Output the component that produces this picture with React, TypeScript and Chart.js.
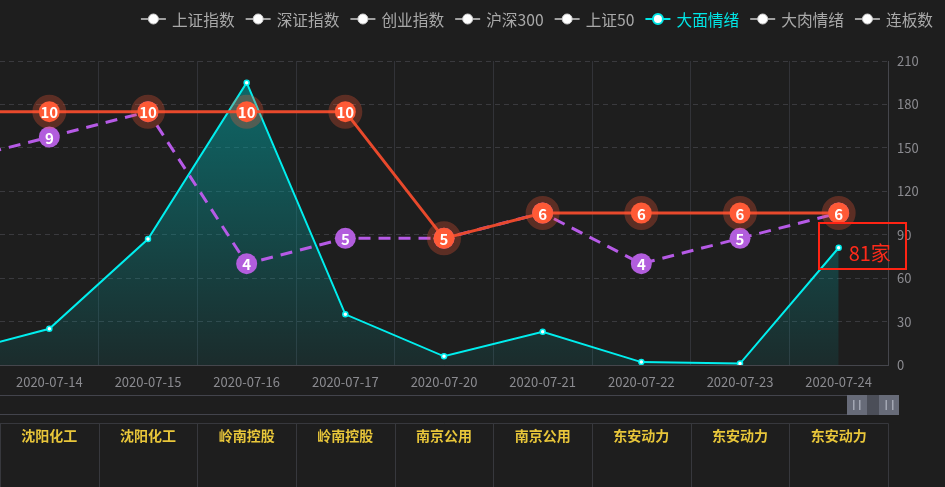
import React, { useEffect, useRef } from 'react';
import { Chart, registerables } from 'chart.js';

Chart.register(...registerables);

// ---- data ----
const categories = ['2020-07-13', '2020-07-14', '2020-07-15', '2020-07-16', '2020-07-17', '2020-07-20', '2020-07-21', '2020-07-22', '2020-07-23', '2020-07-24'];
const firstVisible = '2020-07-14';
const damianValues = [7, 25, 87, 195, 35, 6, 23, 2, 1, 81];
const lianbanValues = [10, 10, 10, 10, 10, 5, 6, 6, 6, 6];
const darouValues = [8, 9, 10, 4, 5, 5, 6, 4, 5, 6];
const stockNames = ['沈阳化工', '沈阳化工', '岭南控股', '岭南控股', '南京公用', '南京公用', '东安动力', '东安动力', '东安动力'];
const legendNames = ['上证指数', '深证指数', '创业指数', '沪深300', '上证50', '大面情绪', '大肉情绪', '连板数'];
const activeLegend = '大面情绪';
const lastUnit = '家';
const yMax = 210;
const yStep = 30;
const levelMax = 12;

const FONT = '"Noto Sans CJK SC", "Noto Sans", sans-serif';
const BG = '#1e1e1e';

const bgPlugin = {
  id: 'bg',
  beforeDraw(chart: any) {
    const { ctx, width, height } = chart;
    ctx.save();
    ctx.fillStyle = BG;
    ctx.fillRect(0, 0, width, height);
    ctx.restore();
  },
};

const legendPlugin = {
  id: 'customLegend',
  afterDraw(chart: any) {
    const ctx = chart.ctx;
    ctx.save();
    ctx.font = `15.7px ${FONT}`;
    ctx.textBaseline = 'middle';
    ctx.textAlign = 'left';
    let x = 933;
    const y = 19;
    for (let i = legendNames.length - 1; i >= 0; i--) {
      const name = legendNames[i];
      const w = ctx.measureText(name).width;
      const active = name === activeLegend;
      const color = active ? '#00e6e6' : '#a9a9a9';
      ctx.fillStyle = color;
      ctx.fillText(name, x - w, y + 1);
      const iconRight = x - w - 6;
      const iconLeft = iconRight - 25;
      ctx.strokeStyle = active ? '#00e6e6' : '#a0a0a0';
      ctx.lineWidth = 2;
      ctx.beginPath();
      ctx.moveTo(iconLeft, y);
      ctx.lineTo(iconRight, y);
      ctx.stroke();
      ctx.beginPath();
      ctx.arc(iconLeft + 12.5, y, 5, 0, Math.PI * 2);
      ctx.fillStyle = '#ffffff';
      ctx.fill();
      ctx.lineWidth = active ? 2 : 1;
      ctx.strokeStyle = active ? '#00e6e6' : '#cfcfcf';
      ctx.stroke();
      x = iconLeft - 11;
    }
    ctx.restore();
  },
};

const labelPlugin = {
  id: 'pointLabels',
  afterDatasetDraw(chart: any, args: any) {
    if (args.index !== 0 && args.index !== 1) return;
    const ctx = chart.ctx;
    const area = chart.chartArea;
    const data = chart.data.datasets[args.index].data;
    ctx.save();
    ctx.font = `bold 15px ${FONT}`;
    ctx.fillStyle = '#ffffff';
    ctx.textAlign = 'center';
    ctx.textBaseline = 'middle';
    args.meta.data.forEach((el: any, i: number) => {
      if (el.x < area.left || el.x > area.right) return;
      ctx.fillText(String(data[i]), el.x, el.y + 1);
    });
    ctx.restore();
  },
};

const extrasPlugin = {
  id: 'extras',
  afterDraw(chart: any) {
    const ctx = chart.ctx;
    const xs = chart.scales.x;
    const area = chart.chartArea;
    ctx.save();
    // last value box
    const meta = chart.getDatasetMeta(2);
    const last = meta.data[meta.data.length - 1];
    const lastVal = damianValues[damianValues.length - 1];
    ctx.strokeStyle = '#ff2414';
    ctx.lineWidth = 2;
    ctx.strokeRect(Math.round(last.x) - 20, Math.round(last.y) - 25, 87, 46);
    ctx.fillStyle = '#ff2a1a';
    ctx.font = `20px ${FONT}`;
    ctx.textAlign = 'left';
    ctx.textBaseline = 'middle';
    ctx.fillText(`${lastVal}${lastUnit}`, last.x + 10, last.y + 6);

    // data zoom slider
    ctx.strokeStyle = '#43444c';
    ctx.lineWidth = 1;
    ctx.strokeRect(-0.5, 395.5, 899, 19);
    ctx.fillStyle = '#4b4e58';
    ctx.fillRect(866, 395, 13, 20);
    ctx.fillStyle = '#676b78';
    ctx.fillRect(847, 395, 20, 20);
    ctx.fillRect(879, 395, 20, 20);
    ctx.fillStyle = '#a3a7b3';
    [853, 859, 885.5, 892].forEach((bx) => ctx.fillRect(bx, 400, 1.5, 10));

    // table of names
    const startIdx = categories.indexOf(firstVisible);
    const band = area.width / stockNames.length;
    ctx.strokeStyle = '#37383d';
    ctx.lineWidth = 1;
    ctx.beginPath();
    ctx.moveTo(area.left, 423.5);
    ctx.lineTo(area.right + 0.5, 423.5);
    for (let i = 0; i <= stockNames.length; i++) {
      const bx = Math.round(area.left + i * band) + 0.5;
      ctx.moveTo(bx, 423.5);
      ctx.lineTo(bx, 487);
    }
    ctx.stroke();
    ctx.fillStyle = '#e8c63a';
    ctx.font = `bold 14px ${FONT}`;
    ctx.textAlign = 'center';
    ctx.textBaseline = 'middle';
    stockNames.forEach((n, i) => {
      const cx = xs.getPixelForValue(startIdx + i);
      ctx.fillText(n, cx, 436);
    });
    ctx.restore();
  },
};

export default function App() {
  const ref = useRef<HTMLCanvasElement | null>(null);
  useEffect(() => {
    document.body.style.margin = '0';
    document.body.style.background = BG;
    const canvas = ref.current;
    if (!canvas) return;
    const chart = new Chart(canvas, {
      type: 'line',
      data: {
        labels: categories,
        datasets: [
          {
            label: '连板高度',
            data: lianbanValues,
            yAxisID: 'yLevel',
            borderColor: '#e8492c',
            borderWidth: 3,
            pointRadius: 10.5,
            pointHoverRadius: 10.5,
            pointBackgroundColor: '#ff5a36',
            pointBorderColor: 'rgba(255,90,54,0.28)',
            pointBorderWidth: 13,
            fill: false,
            tension: 0,
          },
          {
            label: '次高连板',
            data: darouValues,
            yAxisID: 'yLevel',
            borderColor: '#b65ae6',
            borderWidth: 3,
            borderDash: [12, 8],
            pointRadius: 10.5,
            pointHoverRadius: 10.5,
            pointBackgroundColor: '#b25ddd',
            pointBorderWidth: 0,
            fill: false,
            tension: 0,
          },
          {
            label: '大面情绪',
            data: damianValues,
            yAxisID: 'y',
            borderColor: '#00eeee',
            borderWidth: 2,
            pointRadius: 2.5,
            pointBackgroundColor: '#ffffff',
            pointBorderColor: '#00eeee',
            pointBorderWidth: 1.5,
            tension: 0,
            fill: 'origin',
            backgroundColor: (c: any) => {
              const area = c.chart.chartArea;
              if (!area) return 'rgba(0,160,160,0.3)';
              const g = c.chart.ctx.createLinearGradient(0, area.top, 0, area.bottom);
              g.addColorStop(0, 'rgba(0,165,165,0.58)');
              g.addColorStop(1, 'rgba(0,165,165,0.1)');
              return g;
            },
          },
        ],
      },
      options: {
        responsive: false,
        animation: false,
        devicePixelRatio: 1,
        layout: { autoPadding: false, padding: { top: 61, left: 0, right: 0, bottom: 0 } },
        plugins: { legend: { display: false }, tooltip: { enabled: false } },
        scales: {
          x: {
            type: 'category',
            min: firstVisible,
            offset: true,
            grid: { offset: true, color: '#323338', drawTicks: false },
            border: { display: true, color: '#45464c' },
            ticks: { color: '#8b8b90', font: { size: 13, family: FONT }, padding: 9, autoSkip: false, maxRotation: 0 },
            afterFit: (s: any) => { s.height = 122; s.paddingLeft = 0; s.paddingRight = 0; },
          },
          y: {
            position: 'right',
            min: 0,
            max: yMax,
            ticks: { stepSize: yStep, color: '#8b8b90', font: { size: 13, family: FONT }, padding: 9 },
            grid: { color: '#3a3a3e', drawTicks: false },
            border: { display: true, color: '#45464c', dash: [5, 4] },
            afterFit: (s: any) => { s.width = 57; s.paddingTop = 0; s.paddingBottom = 0; },
          },
          yLevel: {
            display: false,
            position: 'left',
            min: 0,
            max: levelMax,
            grid: { drawOnChartArea: false },
            afterFit: (s: any) => { s.width = 0; },
          },
        },
      },
      plugins: [bgPlugin, labelPlugin, extrasPlugin, legendPlugin],
    } as any);
    return () => chart.destroy();
  }, []);
  return <canvas ref={ref} width={945} height={487} style={{ display: 'block' }} />;
}
